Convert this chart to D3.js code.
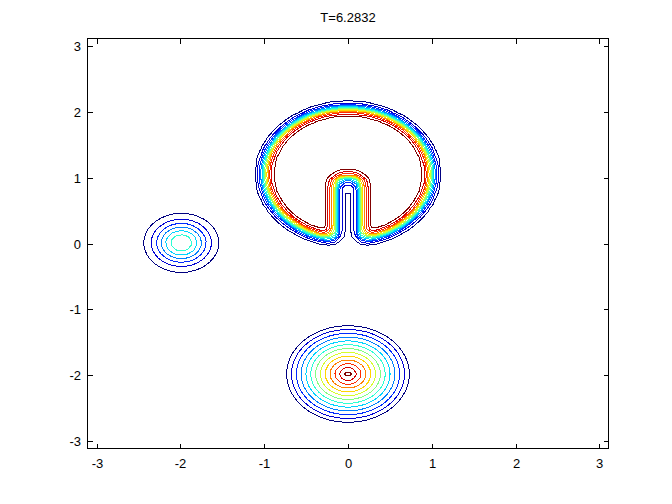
<!DOCTYPE html>
<html><head><meta charset="utf-8">
<script src="https://cdn.jsdelivr.net/npm/d3@7"></script>
<style>body{margin:0;background:#fff}svg{display:block}</style>
</head><body><svg id="c" width="672" height="504"></svg>
<script>
(function () {
const titleText = "T=6.2832";
const xTicks = [-3, -2, -1, 0, 1, 2, 3];
const yTicks = [-3, -2, -1, 0, 1, 2, 3];
const gridN = 100;            // cells per side on [-pi, pi]
const nLevels = 13;           // contour(Z, 13)
// slotted disk: centre x, centre y, radius, slot half width, slot top, smearing width
const diskParams = [0, 1.05, 1.0, 0.15, 1.0, 0.075];
// cone: centre x, centre y, height, base radius
const coneParams = [0, -1.98, 0.98, 0.79];
// smooth hump: centre x, centre y, height, width
const humpParams = [-1.99, 0.01, 0.50, 0.32];

const W = 672, H = 504;
const pL = 87.5, pR = 608.5, pT = 38.5, pB = 448.5;
const h = 2 * Math.PI / gridN;
const x0 = -Math.PI + h / 2, x1 = Math.PI - h / 2;

const xs = d3.scaleLinear().domain([x0, x1]).range([pL, pR]);
const ys = d3.scaleLinear().domain([x0, x1]).range([pB, pT]);

function inDisk(x, y) {
  const [cx, cy, r, a, st] = diskParams;
  const dx = x - cx, dy = y - cy;
  if (dx * dx + dy * dy > r * r) return 0;
  if (Math.abs(dx) < a && y < st) return 0;
  return 1;
}
const values = new Float64Array(gridN * gridN);
{
  const [cx, cy, r, a, st, s] = diskParams;
  const K = 9, dk = s / 3;
  const wts = [];
  let wsum = 0;
  for (let i = -K; i <= K; i++) for (let j = -K; j <= K; j++) {
    const w = Math.exp(-((i * dk) ** 2 + (j * dk) ** 2) / (2 * s * s));
    wts.push([i * dk, j * dk, w]); wsum += w;
  }
  const [kx, ky, kh, kr] = coneParams;
  const [hx, hy, hh, hw] = humpParams;
  for (let j = 0; j < gridN; j++) {
    const y = -Math.PI + h * (j + 0.5);
    for (let i = 0; i < gridN; i++) {
      const x = -Math.PI + h * (i + 0.5);
      let v = 0;
      const d = Math.hypot(x - cx, y - cy);
      if (d < r + 4 * s) {
        let acc = 0;
        for (const [ox, oy, w] of wts) acc += w * inDisk(x + ox, y + oy);
        v += acc / wsum;
      }
      const dc = Math.hypot(x - kx, y - ky);
      v += kh * Math.max(0, 1 - dc / kr);
      const dh2 = (x - hx) ** 2 + (y - hy) ** 2;
      v += hh * Math.exp(-dh2 / (hw * hw));
      values[j * gridN + i] = v;
    }
  }
}
const zmin = d3.min(values), zmax = d3.max(values);
const levels = d3.range(1, nLevels + 1).map(k => zmin + k * (zmax - zmin) / (nLevels + 1));

function jet(t) {
  const c = v => Math.max(0, Math.min(1, v));
  const r = c(1.5 - Math.abs(4 * t - 3)), g = c(1.5 - Math.abs(4 * t - 2)), b = c(1.5 - Math.abs(4 * t - 1));
  return d3.rgb(r * 255, g * 255, b * 255).formatHex();
}

const svg = d3.select("#c");
svg.append("rect").attr("width", W).attr("height", H).attr("fill", "#fff");

svg.append("clipPath").attr("id", "clip").append("rect")
  .attr("x", pL).attr("y", pT).attr("width", pR - pL).attr("height", pB - pT);

const proj = d3.geoTransform({
  point(cx, cy) { this.stream.point(xs(-Math.PI + h * cx), ys(-Math.PI + h * cy)); }
});
const path = d3.geoPath(proj);
const contourGen = d3.contours().size([gridN, gridN]);

const g = svg.append("g").attr("clip-path", "url(#clip)");
levels.forEach((L, k) => {
  const geo = contourGen.thresholds([L])(values)[0];
  g.append("path").attr("d", path(geo))
    .attr("fill", "none")
    .attr("stroke", jet(k / (nLevels - 1)))
    .attr("stroke-width", 1)
    .attr("shape-rendering", "crispEdges");
});

const ax = svg.append("g").attr("stroke", "#000").attr("stroke-width", 1).attr("shape-rendering", "crispEdges");
ax.append("rect").attr("x", pL).attr("y", pT).attr("width", pR - pL).attr("height", pB - pT).attr("fill", "none");
const tl = 5;
xTicks.forEach(t => {
  const px = Math.round(xs(t)) + 0.5;
  ax.append("line").attr("x1", px).attr("x2", px).attr("y1", pB).attr("y2", pB - tl);
  ax.append("line").attr("x1", px).attr("x2", px).attr("y1", pT).attr("y2", pT + tl);
});
yTicks.forEach(t => {
  const py = Math.round(ys(t)) + 0.5;
  ax.append("line").attr("y1", py).attr("y2", py).attr("x1", pL).attr("x2", pL + tl);
  ax.append("line").attr("y1", py).attr("y2", py).attr("x1", pR).attr("x2", pR - tl);
});

const font = "'Liberation Sans', Arial, sans-serif";
svg.append("g").selectAll("text").data(xTicks).join("text")
  .attr("x", d => Math.round(xs(d)) + 0.5).attr("y", 468)
  .attr("text-anchor", "middle").attr("font-family", font).attr("font-size", 13)
  .text(d => String(d));
svg.append("g").selectAll("text").data(yTicks).join("text")
  .attr("x", 81).attr("y", d => Math.round(ys(d)) + 5)
  .attr("text-anchor", "end").attr("font-family", font).attr("font-size", 13)
  .text(d => String(d));
svg.append("text").attr("x", (pL + pR) / 2).attr("y", 22)
  .attr("text-anchor", "middle").attr("font-family", font).attr("font-size", 13)
  .text(titleText);
})();
</script>
</body></html>
